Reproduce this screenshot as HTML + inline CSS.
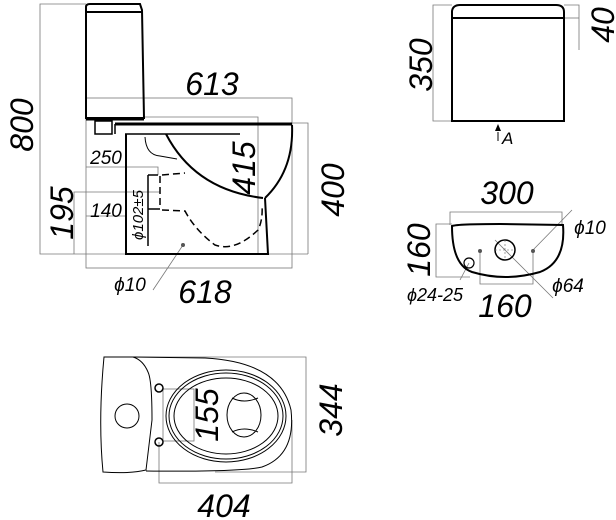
<!DOCTYPE html>
<html><head><style>body{margin:0;background:#fff}svg{display:block}text{font-family:"Liberation Sans",sans-serif;font-style:italic;fill:#000}</style></head><body>
<svg width="616" height="520" viewBox="0 0 616 520" xmlns="http://www.w3.org/2000/svg">
<g fill="none" stroke="#777" stroke-width="0.8">
<polyline points="86,4 40,4 40,254 308,254"/>
<rect x="86" y="98" width="206" height="170"/>
<polyline points="144,117 258,117 258,254"/>
<polyline points="292,123 308,123 308,254"/>
<polyline points="86,167 158,167 158,175"/>
<polyline points="74,254 74,192 160,192"/>
<line x1="86" y1="216" x2="126" y2="216"/>
<line x1="153" y1="290" x2="183" y2="245"/>
<polyline points="452,5 433,5 433,121 452,121"/>
<polyline points="564,5 579,5 579,50"/>
<line x1="564" y1="18" x2="579" y2="18"/>
<polyline points="450,225 450,212 562,212 562,225"/>
<polyline points="452,224 436,224 436,277 470,277"/>
<polyline points="480,252 480,284 533,284 533,252"/>
<line x1="533" y1="250" x2="572" y2="210"/>
<line x1="495" y1="240" x2="553" y2="298"/>
<line x1="469" y1="263" x2="460" y2="280"/>
<polyline points="133,357 306,357 306,472 215,472"/>
<polyline points="159,442 159,483 292,483 292,420"/>
<rect x="163" y="389" width="31" height="52"/>
</g>
<g fill="none" stroke="#000" stroke-width="2">
<path d="M86,118 L86,7 Q86,4 90,4 L140,4 L142,10 L144,118 Z"/>
<line x1="86" y1="12" x2="142" y2="12"/>
<line x1="86" y1="119" x2="144" y2="119" stroke-width="3"/>
<rect x="95" y="121" width="17" height="13" stroke-width="1.5"/>
<line x1="115" y1="124" x2="292" y2="124" stroke-width="3"/>
<line x1="125" y1="134" x2="240" y2="134" stroke-width="1.5"/>
<line x1="115" y1="124" x2="115" y2="134" stroke-width="1.5"/>
<path d="M126,134 L126,254 L268,254 L265,198"/>
<path d="M292,125 Q294,170 265,198"/>
<path d="M166,134 Q195,190 263,198"/>
<path d="M145,137 Q146,155 160,156 L177,159" stroke-width="1"/>
<line x1="148" y1="175" x2="148" y2="246" stroke-width="1.5"/>
<line x1="148" y1="175" x2="158" y2="175" stroke-width="1.5"/>
<line x1="148" y1="209" x2="160" y2="209" stroke-width="1.5"/>
<path d="M160,176 L160,207 M162,175 L185,173 M162,210 L185,211 Q195,230 215,245 Q235,252 258,230 Q263,220 262,205" stroke-dasharray="7,4" stroke-width="1.5"/>
<path d="M452,121 L452,11 Q453,5 460,5 L556,5 Q564,5 564,12 L564,121 Z"/>
<line x1="453" y1="18" x2="564" y2="18"/>
<path d="M452,226 Q458,224 500,224 L563,225 Q566,262 540,272 Q505,282 472,272 Q452,265 452,226 Z"/>
<circle cx="505" cy="250" r="10" stroke-width="1.5"/>
<circle cx="469" cy="263" r="5" stroke-width="1.2"/>
</g>
<g stroke="#666" stroke-width="0.6" stroke-dasharray="2,2"><line x1="505" y1="240" x2="505" y2="260"/><line x1="495" y1="250" x2="515" y2="250"/></g>
<g fill="#555"><circle cx="480" cy="251" r="2"/><circle cx="533" cy="251" r="2"/><circle cx="183" cy="245" r="2"/></g>
<line x1="498" y1="132" x2="498" y2="141" stroke="#000" stroke-width="1"/>
<polygon points="498,124 495,131 501,131" fill="#000"/>
<g fill="none" stroke="#000" stroke-width="1">
<path d="M133,357 L104,357 Q98,420 103,472 Q130,474 146,470 L152,420 Q152,380 148,372 Q143,360 133,357 Z"/>
<path d="M133,357 L205,358 Q280,362 291,410 Q296,455 262,467 Q240,472 146,471"/>
<circle cx="127" cy="416" r="12"/>
<circle cx="159" cy="388" r="4" stroke-width="1.5"/>
<circle cx="159" cy="442" r="4" stroke-width="1.5"/>
<ellipse cx="226" cy="416" rx="60" ry="46"/>
<ellipse cx="226" cy="416" rx="57" ry="43"/>
<ellipse cx="226" cy="416" rx="52" ry="38"/>
<ellipse cx="244" cy="415" rx="17" ry="22"/>
<path d="M232,398 Q244,404 258,398 M232,432 Q244,426 258,432"/>
</g>
<g font-size="32">
<text x="212" y="95" text-anchor="middle">613</text>
<text x="205" y="303" text-anchor="middle">618</text>
<text transform="translate(33,125) rotate(-90)" text-anchor="middle">800</text>
<text transform="translate(73,213) rotate(-90)" text-anchor="middle">195</text>
<text transform="translate(255,168) rotate(-90)" text-anchor="middle" font-style="normal">415</text>
<text transform="translate(344,190) rotate(-90)" text-anchor="middle">400</text>
<text transform="translate(432,65) rotate(-90)" text-anchor="middle" font-style="normal">350</text>
<text transform="translate(614,25) rotate(-90)" text-anchor="middle" font-style="normal">40</text>
<text x="507" y="204" text-anchor="middle">300</text>
<text transform="translate(430,250) rotate(-90)" text-anchor="middle">160</text>
<text x="505" y="317" text-anchor="middle">160</text>
<text transform="translate(218,415) rotate(-90)" text-anchor="middle" font-style="normal">155</text>
<text transform="translate(342,410) rotate(-90)" text-anchor="middle" font-style="normal">344</text>
<text x="224" y="517" text-anchor="middle">404</text>
</g>
<g font-size="19">
<text x="106" y="164" text-anchor="middle">250</text>
<text x="106" y="217" text-anchor="middle">140</text>
<text x="130" y="291" text-anchor="middle">ϕ10</text>
<text x="590" y="234" text-anchor="middle">ϕ10</text>
<text x="568" y="292" text-anchor="middle">ϕ64</text>
<text x="435" y="301" text-anchor="middle" font-size="18">ϕ24-25</text>
<text x="502" y="144" font-size="17">A</text>
<text transform="translate(143,215) rotate(-90)" text-anchor="middle" font-size="15" font-style="normal">ϕ102±5</text>
</g>
</svg>
</body></html>
